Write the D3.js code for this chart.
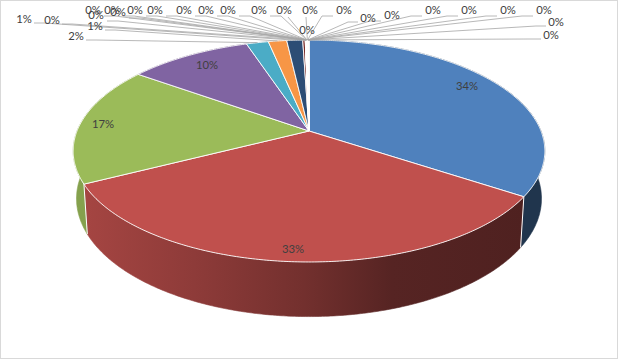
<!DOCTYPE html>
<html><head><meta charset="utf-8">
<script src="https://cdn.jsdelivr.net/npm/d3@7"></script>
<style>html,body{margin:0;padding:0;background:#fff}svg{display:block}text{font-family:Lato,"Liberation Sans",sans-serif;font-size:11.3px;fill:#404040}</style>
</head><body><div id="c"></div>
<script>
const pctLabels = ["34%","33%","17%","10%","2%","1%","1%","0%","0%","0%","0%","0%","0%","0%","0%","0%","0%","0%","0%","0%","0%","0%","0%","0%","0%","0%","0%","0%","0%","0%"];
const seriesValues = [34.3,33.2,17.4,10.0,1.8,1.5,1.3,0.2,0.014,0.014,0.014,0.014,0.014,0.014,0.014,0.014,0.014,0.014,0.014,0.014,0.014,0.014,0.014,0.014,0.014,0.014,0.014,0.014,0.014,0.014];
const palette = ["#4f81bd","#c0504d","#9bbb59","#8064a2","#4bacc6","#f79646","#2c4d75","#772c2a","#5f7530","#4d3b62","#276a7c","#b65708","#729aca","#cd7371","#afc97a","#9983b5","#6fbdd1","#f9ab6b","#3a679c","#9f3b38","#7f9c40","#604a7b","#31859c","#e46c0a","#95b3d7","#d99694","#c3d69b","#b3a2c7","#93cddd","#fac090"];
// label placement, same order as the slices
const labelPlacement = [[467,85],[293,248],[103,123],[207,64],[76,35],[95,25],[24,18],[52,19],[96,14],[93,9],[112,9],[118,11],[135,9],[155,9],[184,9],[206,9],[228,9],[259,9],[284,9],[307,29],[310,9],[344,9],[368,17],[392,14],[433,9],[469,9],[508,9],[544,9],[556,21],[551,34]];

const W=618,H=359;
const svg=d3.select("#c").append("svg").attr("width",W).attr("height",H);
svg.append("rect").attr("x",.5).attr("y",.5).attr("width",W-1).attr("height",H-1).attr("fill","#fff").attr("stroke","#d9d9d9");

// perspective projection of the disc
const sx=d3.scaleLinear().domain([0,1]).range([309,541]);
const sy=d3.scaleLinear().domain([0,1]).range([131,238.4]);
const persp=-0.18, depthW=0.014, depthH=0.441;
function proj(t,low){
  const X=Math.sin(t),Y=-Math.cos(t);
  const den=1+persp*Y+(low?depthW:0);
  return [sx(X/den), sy((Y+(low?depthH:0))/den)];
}
const pie=d3.pie().sort(null).value(d=>d);
const arcs=pie(seriesValues);
const line=d3.line();
const arcPts=(a0,a1,low)=>{const n=Math.max(2,Math.ceil((a1-a0)/0.01));return d3.range(n+1).map(i=>proj(a0+(a1-a0)*i/n,low));};

// side shading
const shadeStops=[[0,.86],[.25,.74],[.5,.6],[.7,.45],[1,.41]];
const defs=svg.append("defs");
palette.forEach((c,i)=>{
  const g=defs.append("linearGradient").attr("id","g"+i).attr("gradientUnits","userSpaceOnUse").attr("x1",84).attr("x2",524).attr("y1",0).attr("y2",0);
  shadeStops.forEach(s=>g.append("stop").attr("offset",s[0]).attr("stop-color",d3.interpolateRgb("#000",c)(s[1])));
});
const sidesG=svg.append("g");
arcs.forEach((a,i)=>{
  const pts=arcPts(a.startAngle,a.endAngle,false).concat(arcPts(a.startAngle,a.endAngle,true).reverse());
  sidesG.append("path").attr("d",line(pts)+"Z").attr("fill",`url(#g${i})`).attr("stroke",`url(#g${i})`).attr("stroke-width",.6);
});
// white seams between the sides
arcs.forEach(a=>{
  sidesG.append("path").attr("d",line([proj(a.startAngle,false),proj(a.startAngle,true)])).attr("stroke","#fff").attr("stroke-width",1).attr("fill","none");
});
// top face
const faceG=svg.append("g");
const centre=[sx(0),sy(0)];
arcs.forEach((a,i)=>{
  const pts=[centre].concat(arcPts(a.startAngle,a.endAngle,false));
  faceG.append("path").attr("d",line(pts)+"Z").attr("fill",palette[i]).attr("stroke","#fff").attr("stroke-width",.9).attr("stroke-linejoin","round");
});
// leaders
const leaders=svg.append("g").attr("fill","none").attr("stroke","#a6a6a6").attr("stroke-width",.8);
arcs.forEach((a,i)=>{
  if(i<4||i===19) return;
  const [lx,ly0]=labelPlacement[i];
  const ly=ly0+1;
  const anchor=proj((a.startAngle+a.endAngle)/2,false);
  const s=lx<anchor[0]-2?1:(lx>anchor[0]+2?-1:0);
  let pts;
  if(s===0) pts=[[lx,ly+7],anchor];
  else if(Math.abs(lx-anchor[0])<30) pts=[[lx+s*4,ly+7],anchor];
  else if(ly>=18) pts=[[lx+s*10,ly+4],[lx+s*20,ly+4],anchor];
  else pts=[[lx+s*11,ly+6],[lx+s*22,ly+6],anchor];
  leaders.append("path").attr("d",line(pts));
});
// labels
svg.append("g").selectAll("text").data(pctLabels).join("text")
  .attr("x",(d,i)=>labelPlacement[i][0]).attr("y",(d,i)=>labelPlacement[i][1])
  .attr("text-anchor","middle").attr("dominant-baseline","central").text(d=>d);
</script></body></html>
